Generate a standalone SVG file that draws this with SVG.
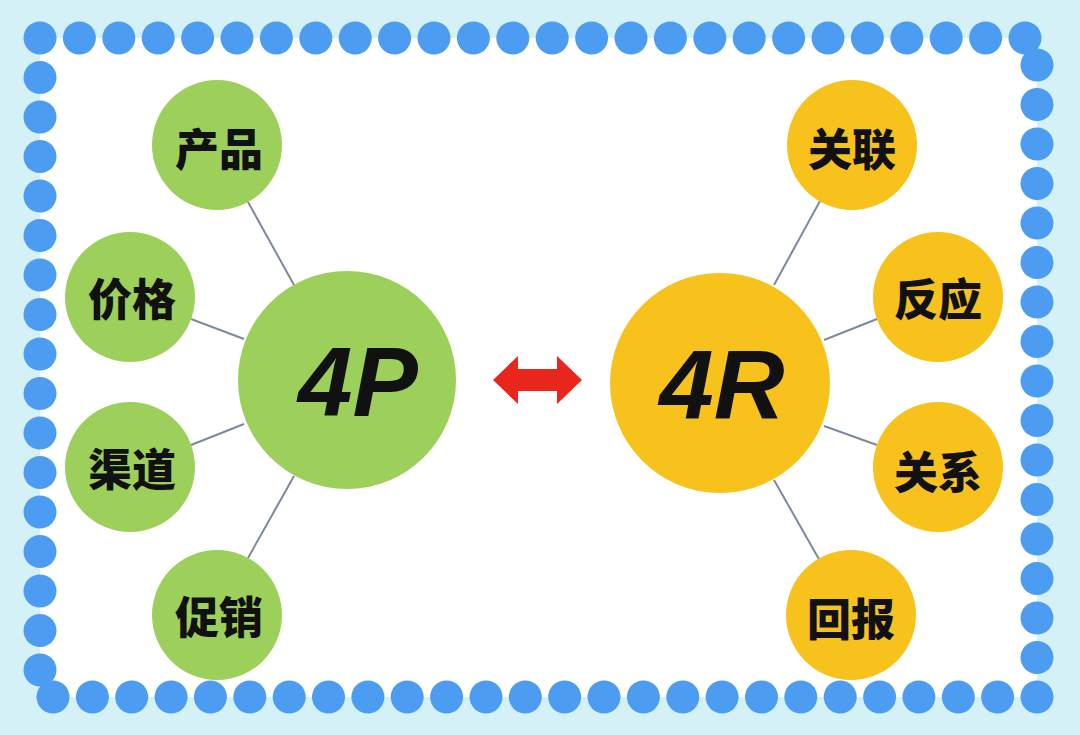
<svg xmlns="http://www.w3.org/2000/svg" width="1080" height="735" viewBox="0 0 1080 735">
<style>
.dot{fill:#4C9DF1}
.g{fill:#9CD05B}
.y{fill:#F7C21B}
.lbl{font-family:"Noto Sans CJK SC","Noto Sans",sans-serif;font-weight:900;font-size:44px;fill:#111;text-anchor:middle;dominant-baseline:central}
.big{font-family:"Liberation Sans",Arial,sans-serif;font-weight:bold;font-style:italic;font-size:98px;fill:#111;text-anchor:middle;dominant-baseline:central}
.con line{stroke:#7C8A9E;stroke-width:2}
</style>
<rect width="1080" height="735" fill="#D4F1F8"/>
<rect x="40" y="38" width="997" height="659" fill="#FFFFFF"/>
<g id="border">
<circle class="dot" cx="40" cy="38" r="16.5"/><circle class="dot" cx="79.4" cy="38" r="16.5"/><circle class="dot" cx="118.8" cy="38" r="16.5"/><circle class="dot" cx="158.2" cy="38" r="16.5"/><circle class="dot" cx="197.6" cy="38" r="16.5"/><circle class="dot" cx="237" cy="38" r="16.5"/><circle class="dot" cx="276.4" cy="38" r="16.5"/><circle class="dot" cx="315.8" cy="38" r="16.5"/><circle class="dot" cx="355.2" cy="38" r="16.5"/><circle class="dot" cx="394.6" cy="38" r="16.5"/><circle class="dot" cx="434" cy="38" r="16.5"/><circle class="dot" cx="473.4" cy="38" r="16.5"/><circle class="dot" cx="512.8" cy="38" r="16.5"/><circle class="dot" cx="552.2" cy="38" r="16.5"/><circle class="dot" cx="591.6" cy="38" r="16.5"/><circle class="dot" cx="631" cy="38" r="16.5"/><circle class="dot" cx="670.4" cy="38" r="16.5"/><circle class="dot" cx="709.8" cy="38" r="16.5"/><circle class="dot" cx="749.2" cy="38" r="16.5"/><circle class="dot" cx="788.6" cy="38" r="16.5"/><circle class="dot" cx="828" cy="38" r="16.5"/><circle class="dot" cx="867.4" cy="38" r="16.5"/><circle class="dot" cx="906.8" cy="38" r="16.5"/><circle class="dot" cx="946.2" cy="38" r="16.5"/><circle class="dot" cx="985.6" cy="38" r="16.5"/><circle class="dot" cx="1025" cy="38" r="16.5"/>
<circle class="dot" cx="40" cy="77.5" r="16.5"/><circle class="dot" cx="40" cy="117" r="16.5"/><circle class="dot" cx="40" cy="156.5" r="16.5"/><circle class="dot" cx="40" cy="196" r="16.5"/><circle class="dot" cx="40" cy="235.5" r="16.5"/><circle class="dot" cx="40" cy="275" r="16.5"/><circle class="dot" cx="40" cy="314.5" r="16.5"/><circle class="dot" cx="40" cy="354" r="16.5"/><circle class="dot" cx="40" cy="393.5" r="16.5"/><circle class="dot" cx="40" cy="433" r="16.5"/><circle class="dot" cx="40" cy="472.5" r="16.5"/><circle class="dot" cx="40" cy="512" r="16.5"/><circle class="dot" cx="40" cy="551.5" r="16.5"/><circle class="dot" cx="40" cy="591" r="16.5"/><circle class="dot" cx="40" cy="630.5" r="16.5"/><circle class="dot" cx="40" cy="670" r="16.5"/>
<circle class="dot" cx="53" cy="697" r="16.5"/><circle class="dot" cx="92.4" cy="697" r="16.5"/><circle class="dot" cx="131.7" cy="697" r="16.5"/><circle class="dot" cx="171.1" cy="697" r="16.5"/><circle class="dot" cx="210.4" cy="697" r="16.5"/><circle class="dot" cx="249.8" cy="697" r="16.5"/><circle class="dot" cx="289.2" cy="697" r="16.5"/><circle class="dot" cx="328.5" cy="697" r="16.5"/><circle class="dot" cx="367.9" cy="697" r="16.5"/><circle class="dot" cx="407.2" cy="697" r="16.5"/><circle class="dot" cx="446.6" cy="697" r="16.5"/><circle class="dot" cx="486" cy="697" r="16.5"/><circle class="dot" cx="525.3" cy="697" r="16.5"/><circle class="dot" cx="564.7" cy="697" r="16.5"/><circle class="dot" cx="604" cy="697" r="16.5"/><circle class="dot" cx="643.4" cy="697" r="16.5"/><circle class="dot" cx="682.8" cy="697" r="16.5"/><circle class="dot" cx="722.1" cy="697" r="16.5"/><circle class="dot" cx="761.5" cy="697" r="16.5"/><circle class="dot" cx="800.8" cy="697" r="16.5"/><circle class="dot" cx="840.2" cy="697" r="16.5"/><circle class="dot" cx="879.6" cy="697" r="16.5"/><circle class="dot" cx="918.9" cy="697" r="16.5"/><circle class="dot" cx="958.3" cy="697" r="16.5"/><circle class="dot" cx="997.6" cy="697" r="16.5"/><circle class="dot" cx="1037" cy="697" r="16.5"/>
<circle class="dot" cx="1037" cy="65" r="16.5"/><circle class="dot" cx="1037" cy="104.5" r="16.5"/><circle class="dot" cx="1037" cy="144" r="16.5"/><circle class="dot" cx="1037" cy="183.5" r="16.5"/><circle class="dot" cx="1037" cy="223" r="16.5"/><circle class="dot" cx="1037" cy="262.5" r="16.5"/><circle class="dot" cx="1037" cy="302" r="16.5"/><circle class="dot" cx="1037" cy="341.5" r="16.5"/><circle class="dot" cx="1037" cy="381" r="16.5"/><circle class="dot" cx="1037" cy="420.5" r="16.5"/><circle class="dot" cx="1037" cy="460" r="16.5"/><circle class="dot" cx="1037" cy="499.5" r="16.5"/><circle class="dot" cx="1037" cy="539" r="16.5"/><circle class="dot" cx="1037" cy="578.5" r="16.5"/><circle class="dot" cx="1037" cy="618" r="16.5"/><circle class="dot" cx="1037" cy="657.5" r="16.5"/>
</g>
<g id="connectors" class="con">
<line x1="248" y1="202" x2="294" y2="285"/>
<line x1="191" y1="319" x2="244" y2="339"/>
<line x1="191" y1="445" x2="244" y2="424"/>
<line x1="248" y1="558" x2="294" y2="476"/>
<line x1="820" y1="201" x2="774" y2="285"/>
<line x1="877" y1="319" x2="824" y2="340"/>
<line x1="877" y1="445" x2="824" y2="426"/>
<line x1="820" y1="561" x2="774" y2="480"/>
</g>
<g id="n4P"><circle class="g" cx="347" cy="380" r="109"/><text class="big" x="358" y="382">4P</text></g>
<g id="n4R"><circle class="y" cx="720" cy="383" r="110"/><text class="big" x="722" y="385">4R</text></g>
<g id="chanpin"><circle class="g" cx="217" cy="145" r="65"/><text class="lbl" x="219" y="147">产品</text></g>
<g id="jiage"><circle class="g" cx="130" cy="297" r="65"/><text class="lbl" x="132" y="297">价格</text></g>
<g id="qudao"><circle class="g" cx="130" cy="467" r="65"/><text class="lbl" x="132" y="467">渠道</text></g>
<g id="cuxiao"><circle class="g" cx="217" cy="615" r="65"/><text class="lbl" x="219" y="615">促销</text></g>
<g id="guanlian"><circle class="y" cx="852" cy="145" r="65"/><text class="lbl" x="852" y="147">关联</text></g>
<g id="fanying"><circle class="y" cx="938" cy="297" r="65"/><text class="lbl" x="938" y="297">反应</text></g>
<g id="guanxi"><circle class="y" cx="938" cy="467" r="65"/><text class="lbl" x="938" y="470">关系</text></g>
<g id="huibao"><circle class="y" cx="851" cy="615" r="65"/><text class="lbl" x="851" y="617">回报</text></g>
<g id="arrow"><path d="M493,380 L518,356 L518,369 L557,369 L557,356 L582,380 L557,404 L557,391 L518,391 L518,404 Z" fill="#E8261C"/></g>
</svg>
